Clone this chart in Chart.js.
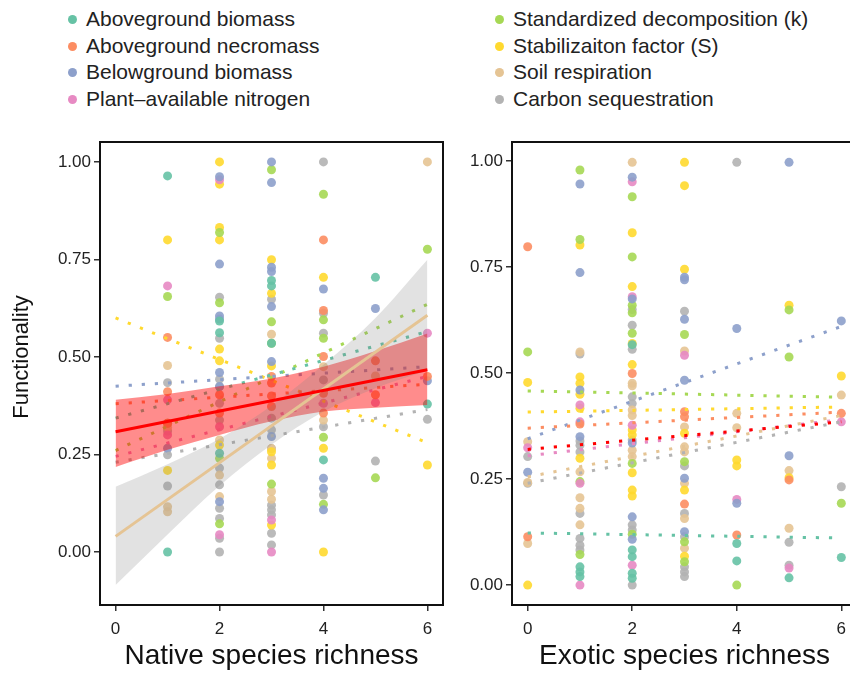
<!DOCTYPE html>
<html>
<head>
<meta charset="utf-8">
<script src="https://cdn.jsdelivr.net/npm/chart.js@4.4.1/dist/chart.umd.min.js"></script>
<style>
  body { margin: 0; width: 850px; height: 675px; overflow: hidden; background: #fff;
         position: relative; font-family: "Liberation Sans", Arial, sans-serif; }
  .legend { position: absolute; top: 6px; }
  .legend div { height: 26.7px; line-height: 26.7px; font-size: 21px; color: #222; white-space: nowrap; position: relative; }
  .legend span { position: absolute; width: 9px; height: 9px; border-radius: 50%; top: 9px; }
  canvas { position: absolute; top: 0; }
</style>
</head>
<body>
<div class="legend" id="legA" style="left:86px"></div>
<div class="legend" id="legB" style="left:513px"></div>
<canvas id="native" width="450" height="675" style="left:0"></canvas>
<canvas id="exotic" width="430" height="675" style="left:447px"></canvas>
<script>
const seriesNames = [
  "Aboveground biomass", "Aboveground necromass", "Belowground biomass", "Plant\u2013available nitrogen",
  "Standardized decomposition (k)", "Stabilizaiton factor (S)", "Soil respiration", "Carbon sequestration"
];
const seriesColors = ["#66c2a5", "#fc8d62", "#8da0cb", "#e78ac3", "#a6d854", "#ffd92f", "#e5c494", "#b3b3b3"];
const xTicks = [0, 2, 4, 6];
const yTicks = [0, 0.25, 0.5, 0.75, 1];

// native richness panel, [richness, functionality]
const nativeAboveBiomass = [[1,0.964],[1,0.0],[2,0.592],[2,0.562],[2,0.253],[3,0.696],[3,0.682],[3,0.535],[4,0.236],[5,0.704],[6,0.379]];
const nativeNecromass = [[1,0.55],[1,0.411],[1,0.33],[2,0.403],[2,0.356],[3,0.45],[3,0.433],[3,0.40],[3,0.373],[4,0.80],[4,0.619],[4,0.501],[4,0.407],[4,0.356],[5,0.49],[5,0.403],[6,0.45]];
const nativeBelowBiomass = [[1,0.266],[2,0.962],[2,0.738],[2,0.605],[2,0.597],[2,0.46],[2,0.424],[2,0.129],[3,1.0],[3,0.947],[3,0.73],[3,0.719],[3,0.629],[3,0.488],[3,0.296],[4,0.674],[4,0.189],[4,0.163],[4,0.108],[5,0.624],[6,0.439]];
const nativeNitrogen = [[1,0.682],[1,0.39],[1,0.30],[2,0.954],[2,0.321],[2,0.044],[3,0.082],[3,0.0],[4,0.381],[5,0.383],[6,0.561]];
const nativeDecomp = [[1,0.655],[1,0.33],[2,0.819],[2,0.639],[2,0.24],[2,0.072],[3,0.98],[3,0.59],[3,0.535],[3,0.174],[4,0.917],[4,0.595],[4,0.548],[4,0.294],[4,0.122],[5,0.19],[6,0.776]];
const nativeStabil = [[1,0.80],[1,0.209],[2,1.0],[2,0.943],[2,0.832],[2,0.80],[2,0.52],[2,0.49],[2,0.274],[3,0.749],[3,0.663],[3,0.477],[3,0.257],[3,0.223],[3,0.069],[4,0.704],[4,0.266],[4,0.0],[6,0.223]];
const nativeSoilResp = [[1,0.478],[1,0.116],[1,0.103],[1,0.32],[2,0.287],[2,0.197],[2,0.142],[3,0.558],[3,0.265],[3,0.24],[3,0.155],[3,0.135],[4,0.475],[4,0.338],[5,0.451],[6,1.0]];
const nativeCarbon = [[1,0.434],[1,0.31],[1,0.249],[1,0.169],[2,0.653],[2,0.548],[2,0.443],[2,0.424],[2,0.381],[2,0.338],[2,0.215],[2,0.172],[2,0.112],[2,0.086],[2,0.035],[2,0.0],[3,0.648],[3,0.343],[3,0.313],[3,0.265],[3,0.12],[3,0.108],[3,0.095],[3,0.048],[3,0.018],[4,1.0],[4,0.612],[4,0.561],[4,0.441],[4,0.321],[4,0.146],[5,0.233],[6,0.34]];

// exotic richness panel
const exoticAboveBiomass = [[1,0.043],[1,0.031],[1,0.02],[2,0.567],[2,0.083],[2,0.067],[2,0.028],[2,0.016],[4,0.098],[4,0.057],[5,0.017],[6,0.065]];
const exoticNecromass = [[0,0.798],[0,0.114],[1,0.38],[2,0.499],[3,0.409],[3,0.397],[3,0.191],[4,0.118],[5,0.248],[6,0.405]];
const exoticBelowBiomass = [[0,0.266],[1,0.946],[1,0.737],[1,0.46],[1,0.35],[2,0.962],[2,0.675],[2,0.335],[2,0.161],[2,0.108],[3,0.726],[3,0.72],[3,0.627],[3,0.483],[3,0.252],[3,0.126],[4,0.605],[4,0.193],[5,0.997],[5,0.305],[6,0.623]];
const exoticNitrogen = [[0,0.324],[1,0.425],[1,0.385],[1,0.24],[1,0.0],[2,0.951],[2,0.68],[2,0.377],[2,0.047],[3,0.542],[4,0.202],[5,0.04],[6,0.385]];
const exoticDecomp = [[0,0.55],[1,0.979],[1,0.815],[1,0.244],[1,0.072],[2,0.916],[2,0.774],[2,0.66],[2,0.642],[2,0.594],[2,0.287],[2,0.12],[3,0.591],[3,0.291],[3,0.102],[3,0.055],[4,0.0],[5,0.649],[5,0.538],[6,0.193]];
const exoticStabil = [[0,0.478],[0,0.0],[1,0.802],[1,0.491],[1,0.476],[1,0.45],[1,0.417],[1,0.299],[2,0.831],[2,0.704],[2,0.57],[2,0.52],[2,0.366],[2,0.354],[2,0.265],[2,0.224],[2,0.21],[3,0.997],[3,0.942],[3,0.745],[3,0.358],[3,0.224],[3,0.068],[4,0.295],[4,0.281],[5,0.66],[5,0.253],[6,0.493]];
const exoticSoilResp = [[0,0.338],[0,0.242],[0,0.098],[1,0.55],[1,0.267],[1,0.206],[1,0.181],[1,0.142],[2,0.997],[2,0.476],[2,0.47],[2,0.413],[2,0.40],[2,0.318],[2,0.303],[3,0.552],[3,0.373],[3,0.326],[3,0.314],[3,0.24],[3,0.157],[3,0.087],[4,0.405],[4,0.371],[5,0.27],[5,0.134],[6,0.448]];
const exoticCarbon = [[0,0.303],[0,0.24],[1,0.545],[1,0.34],[1,0.33],[1,0.314],[1,0.169],[1,0.11],[1,0.094],[1,0.083],[2,0.65],[2,0.613],[2,0.556],[2,0.444],[2,0.428],[2,0.342],[2,0.142],[2,0.13],[2,0.0],[3,0.646],[3,0.281],[3,0.169],[3,0.114],[3,0.043],[3,0.031],[3,0.02],[4,0.997],[5,0.101],[5,0.047],[6,0.232]];

// per-function linear fits, value at richness 0 and 6 (null = drawn as solid fit)
const nativeFitStart = [0.343, 0.38, 0.425, 0.245, 0.26, 0.60, null, 0.23];
const nativeFitEnd   = [0.565, 0.43, 0.475, 0.45, 0.635, 0.28, null, 0.365];
const exoticFitStart = [0.123, 0.37, 0.345, 0.305, 0.458, 0.408, 0.255, 0.24];
const exoticFitEnd   = [0.111, 0.408, 0.61, 0.39, 0.443, 0.42, 0.40, 0.385];

// overall fits with confidence bands
const bandX = [0, 1, 2, 3, 4, 5, 6];
const nativeOverallFit = [0.308, 0.467];
const nativeOverallUpper = [0.39, 0.405, 0.425, 0.445, 0.475, 0.515, 0.56];
const nativeOverallLower = [0.218, 0.262, 0.30, 0.335, 0.36, 0.37, 0.377];
const soilRespFit = [0.04, 0.607];
const soilRespUpper = [0.167, 0.225, 0.29, 0.375, 0.48, 0.60, 0.749];
const soilRespLower = [-0.085, 0.045, 0.17, 0.275, 0.36, 0.42, 0.465];
const exoticOverallFit = [0.32, 0.385];

const tickFont = { size: 17, family: "Liberation Sans" };

function rgba(hex, a) {
  const n = parseInt(hex.slice(1), 16);
  return `rgba(${n >> 16},${(n >> 8) & 255},${n & 255},${a})`;
}

// legend, two columns of four
seriesNames.forEach((name, i) => {
  const col = document.getElementById(i < 4 ? "legA" : "legB");
  const row = document.createElement("div");
  const dot = document.createElement("span");
  dot.style.background = seriesColors[i];
  dot.style.left = "-18.5px";
  row.appendChild(dot);
  row.appendChild(document.createTextNode(name));
  col.appendChild(row);
});

const line = (y0, y1, color, dotted, order) => ({
  type: "line",
  data: [{ x: 0, y: y0 }, { x: 6, y: y1 }],
  borderColor: color,
  borderWidth: 3,
  borderDash: dotted ? [3.2, 9.9] : [],
  borderCapStyle: "butt",
  pointRadius: 0,
  fill: false,
  order: order
});

const band = (upper, lower, color, order) => [
  { type: "line", data: bandX.map((x, i) => ({ x, y: upper[i] })), borderWidth: 0, pointRadius: 0,
    backgroundColor: color, fill: "+1", cubicInterpolationMode: "monotone", order: order },
  { type: "line", data: bandX.map((x, i) => ({ x, y: lower[i] })), borderWidth: 0, pointRadius: 0,
    fill: false, cubicInterpolationMode: "monotone", order: order }
];

function pointSets(groups) {
  return groups.map((pts, i) => ({
    type: "scatter",
    data: pts.map(([x, y]) => ({ x, y })),
    backgroundColor: rgba(seriesColors[i], 0.9),
    pointRadius: 4.5,
    pointHoverRadius: 4.5,
    borderWidth: 0,
    order: 5
  }));
}

function fitSets(starts, ends) {
  const out = [];
  starts.forEach((y0, i) => {
    if (y0 !== null) out.push(line(y0, ends[i], seriesColors[i], true, 3));
  });
  return out;
}

// black box round the plotting area
const frame = {
  id: "frame",
  afterDraw(chart) {
    const { ctx, chartArea: a } = chart;
    ctx.save();
    ctx.strokeStyle = "#111";
    ctx.lineWidth = 2;
    ctx.strokeRect(a.left, a.top, a.right - a.left, a.bottom - a.top);
    ctx.restore();
  }
};

// vertical axis title, set a little above the middle of the panel
const yTitle = {
  id: "yTitle",
  afterDraw(chart, args, opts) {
    if (!opts.text) return;
    const { ctx } = chart;
    ctx.save();
    ctx.translate(opts.x, opts.y);
    ctx.rotate(-Math.PI / 2);
    ctx.font = "22px 'Liberation Sans'";
    ctx.fillStyle = "#111";
    ctx.textAlign = "center";
    ctx.textBaseline = "middle";
    ctx.fillText(opts.text, 0, 0);
    ctx.restore();
  }
};

function makeScales(yMin, yMax, yWidth, xTitle) {
  const tickGrid = { drawOnChartArea: false, drawTicks: true, tickLength: 6, color: "#333", lineWidth: 1.5 };
  return {
    x: {
      type: "linear", min: -0.3, max: 6.3,
      afterBuildTicks: s => { s.ticks = xTicks.map(v => ({ value: v })); },
      afterFit: s => { s.height = 70; },
      grid: tickGrid, border: { display: false },
      ticks: { color: "#222", font: tickFont, padding: 8 },
      title: { display: true, text: xTitle, color: "#111", font: { size: 28, family: "Liberation Sans" }, padding: { top: 0, bottom: 2 } }
    },
    y: {
      type: "linear", min: yMin, max: yMax,
      afterBuildTicks: s => { s.ticks = yTicks.map(v => ({ value: v })); },
      afterFit: s => { s.width = yWidth; },
      grid: tickGrid, border: { display: false },
      ticks: { color: "#222", font: tickFont, padding: 3, callback: v => v.toFixed(2) }
    }
  };
}

function makeChart(id, datasets, scales, padRight, title) {
  return new Chart(document.getElementById(id), {
    type: "scatter",
    data: { datasets },
    options: {
      responsive: false,
      animation: false,
      events: [],
      layout: { padding: { top: 142, right: padRight, left: 0, bottom: 0 } },
      plugins: { legend: { display: false }, tooltip: { enabled: false }, yTitle: title },
      scales
    },
    plugins: [frame, yTitle]
  });
}

makeChart("native", [
  line(nativeOverallFit[0], nativeOverallFit[1], "#ff0000", false, 0),
  line(soilRespFit[0], soilRespFit[1], "#e5c494", false, 0),
  ...band(soilRespUpper, soilRespLower, "rgba(128,128,128,0.23)", 1),
  ...band(nativeOverallUpper, nativeOverallLower, "rgba(255,0,0,0.45)", 2),
  ...fitSets(nativeFitStart, nativeFitEnd),
  ...pointSets([nativeAboveBiomass, nativeNecromass, nativeBelowBiomass, nativeNitrogen,
                nativeDecomp, nativeStabil, nativeSoilResp, nativeCarbon])
], makeScales(-0.136, 1.051, 100, "Native species richness"), 7,
   { text: "Functionality", x: 22, y: 357 });

makeChart("exotic", [
  line(exoticOverallFit[0], exoticOverallFit[1], "#ff0000", true, 3),
  ...fitSets(exoticFitStart, exoticFitEnd),
  ...pointSets([exoticAboveBiomass, exoticNecromass, exoticBelowBiomass, exoticNitrogen,
                exoticDecomp, exoticStabil, exoticSoilResp, exoticCarbon])
], makeScales(-0.047, 1.045, 65, "Exotic species richness"), 20, { text: "" });
</script>
</body>
</html>
